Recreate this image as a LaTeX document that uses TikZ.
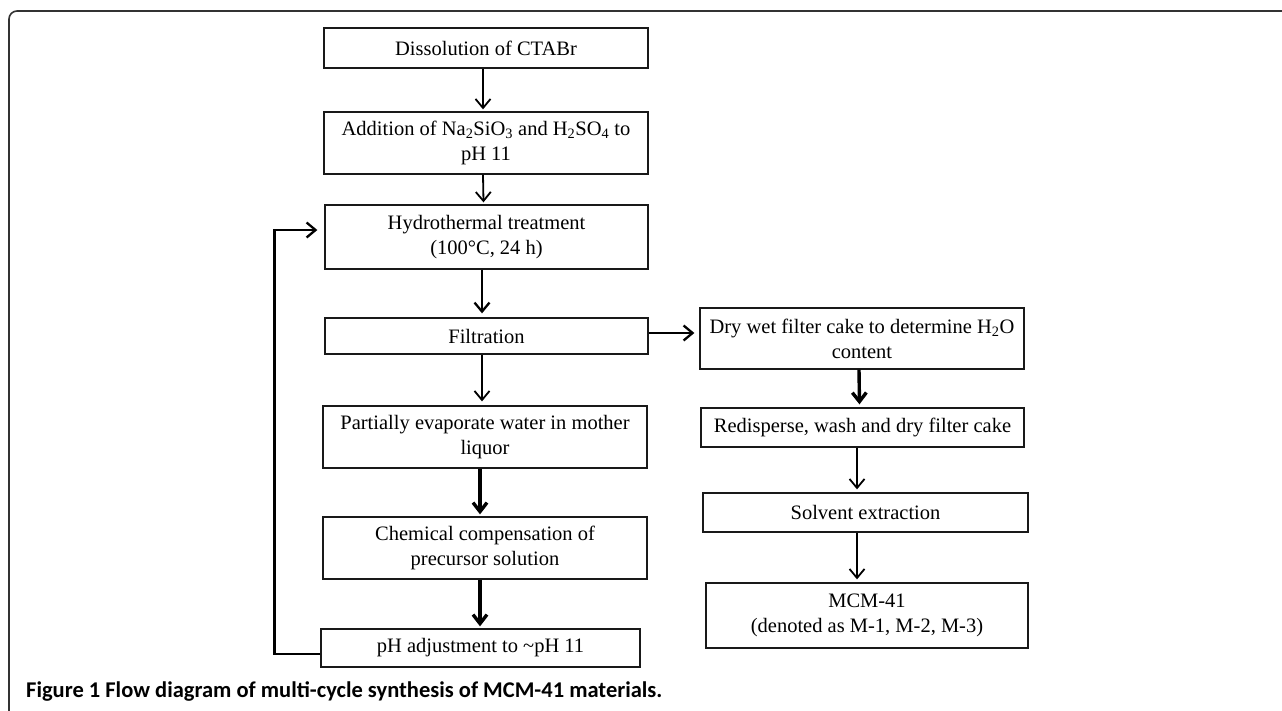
\documentclass[tikz,border=0pt]{standalone}
\usepackage{fontspec}
\setmainfont{Liberation Serif}
\newfontfamily\capfont{Carlito}
\usetikzlibrary{arrows.meta}
\tikzset{
  box/.style={draw=black!90, line width=1.3pt, inner sep=0pt, align=center,
    font=\fontsize{20.5}{25}\selectfont},
  arr/.style={line width=1.8pt, -{Straight Barb[length=9pt,width=15pt]}},
  arrm/.style={line width=2.3pt, -{Straight Barb[length=9pt,width=15pt]}},
  arrt/.style={line width=3.4pt, -{Straight Barb[length=9pt,width=14pt]}},
}
\begin{document}
\begin{tikzpicture}[x=1pt,y=-1pt]
\useasboundingbox (0,0) rectangle (1282,710);
\draw[line width=1.6pt, black!80, rounded corners=8pt] (9,712) -- (9,11) -- (1284,11);

\node[box, minimum width=324pt, minimum height=40pt] (b1) at (486,48) {Dissolution of CTABr};
\node[box, minimum width=324pt, minimum height=62pt] (b2) at (486,143) {Addition of Na\textsubscript{2}SiO\textsubscript{3} and H\textsubscript{2}SO\textsubscript{4} to\\pH 11};
\node[box, minimum width=323pt, minimum height=64pt] (b3) at (486.5,237) {Hydrothermal treatment\\(100°C, 24 h)};
\node[box, minimum width=323pt, minimum height=36pt] (b4) at (486.5,336) {Filtration};
\node[box, minimum width=324pt, minimum height=62pt] (b5) at (485,437) {Partially evaporate water in mother\\liquor};
\node[box, minimum width=324pt, minimum height=62pt] (b6) at (485,548) {Chemical compensation of\\precursor solution};
\node[box, minimum width=319pt, minimum height=38pt] (b7) at (480.5,648) {pH adjustment to \textasciitilde pH 11};
\node[box, minimum width=324pt, minimum height=61pt] (b8) at (862,338.5) {Dry wet filter cake to determine H\textsubscript{2}O\\content};
\node[box, minimum width=323pt, minimum height=39pt] (b9) at (862.5,427.5) {Redisperse, wash and dry filter cake};
\node[box, minimum width=325pt, minimum height=39pt] (b10) at (865.5,512.5) {Solvent extraction};
\node[box, minimum width=322pt, minimum height=65pt] (b11) at (867,615.5) {MCM-41\\(denoted as M-1, M-2, M-3)};

\draw[arr] ([xshift=-3pt]b1.south) -- ([xshift=-3pt,yshift=2pt]b2.north);
\draw[arr] ([xshift=-3pt]b2.south) -- ([xshift=-3pt,yshift=2pt]b3.north);
\draw[arrm] ([xshift=-4.5pt]b3.south) -- ([xshift=-4.5pt,yshift=4pt]b4.north);
\draw[arr] ([xshift=-4.5pt]b4.south) -- ([xshift=-3pt,yshift=4pt]b5.north);
\draw[arrt] ([xshift=-5pt]b5.south) -- ([xshift=-5pt,yshift=2pt]b6.north);
\draw[arrt] ([xshift=-5pt]b6.south) -- ([xshift=-0.5pt,yshift=2pt]b7.north);
\draw[arrm] ([yshift=-6pt]b7.west) -- ++(-46,0) |- ([xshift=-7pt,yshift=7pt]b3.west);
\draw[arrm] ([yshift=3pt]b4.east) -- ([xshift=-5pt,yshift=3pt]b4.east -| b8.west);
\draw[arrt] ([xshift=-3pt]b8.south) -- ([xshift=-3pt,yshift=3pt]b9.north);
\draw[arr] ([xshift=-5.5pt]b9.south) -- ([xshift=-8.5pt,yshift=3pt]b10.north);
\draw[arr] ([xshift=-8.5pt]b10.south) -- ([xshift=-10pt,yshift=3pt]b11.north);

\node[anchor=base west, inner sep=0pt, font=\capfont\bfseries\fontsize{22.5}{26}\selectfont] (cap) at (26,697)
  {Figure 1 Flow diagram of multi-cycle synthesis of MCM-41 materials.};
\end{tikzpicture}
\end{document}
